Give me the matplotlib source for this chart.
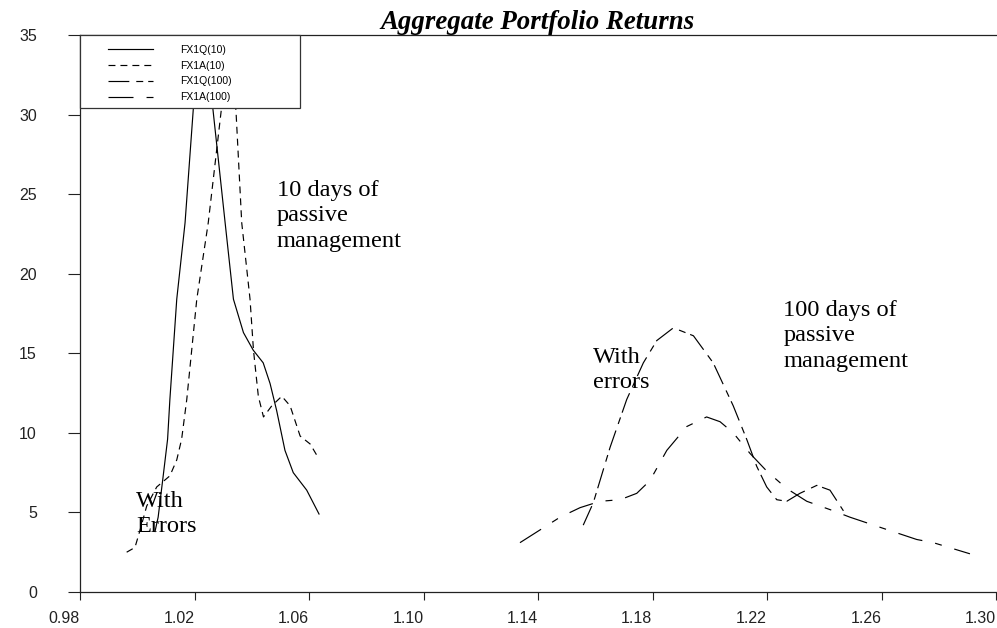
import matplotlib
matplotlib.use("Agg")
import matplotlib.pyplot as plt
from matplotlib.patches import Rectangle
from matplotlib.ticker import FixedLocator, FormatStrFormatter

# ---- data ----
fx1q10_x = [1.0062, 1.0073, 1.0090, 1.0106, 1.0114, 1.0138, 1.0167, 1.0196, 1.0226,
            1.0264, 1.0307, 1.0336, 1.0371, 1.0405, 1.0440, 1.0464, 1.0487, 1.0516,
            1.0545, 1.0592, 1.0635]
fx1q10_y = [3.8, 4.7, 7.2, 9.6, 12.1, 18.4, 23.2, 30.4, 35.5,
            30.4, 23.2, 18.4, 16.3, 15.2, 14.4, 13.1, 11.4, 8.9,
            7.5, 6.4, 4.9]

fx1a10_x = [0.9963, 0.9992, 1.0010, 1.0033, 1.0068, 1.0114, 1.0138, 1.0155, 1.0173,
            1.0208, 1.0248, 1.0293, 1.0321, 1.0345, 1.0365, 1.0394, 1.0406, 1.0423,
            1.0441, 1.0470, 1.0505, 1.0534, 1.0569, 1.0604, 1.0627]
fx1a10_y = [2.5, 2.8, 3.9, 5.4, 6.6, 7.3, 8.3, 9.6, 12.1,
            18.4, 23.2, 30.2, 35.5, 30.2, 23.2, 18.4, 15.2, 12.3,
            11.0, 11.7, 12.3, 11.7, 9.8, 9.3, 8.6]

fx1q100_x = [1.1558, 1.1593, 1.1652, 1.1710, 1.1768, 1.1815, 1.1873, 1.1943, 1.2012,
             1.2082, 1.2129, 1.2164, 1.2199, 1.2234, 1.2269, 1.2315, 1.2374, 1.2420,
             1.2467]
fx1q100_y = [4.2, 5.6, 9.1, 12.1, 14.4, 15.8, 16.6, 16.1, 14.4,
             11.7, 9.6, 7.9, 6.6, 5.8, 5.7, 6.2, 6.7, 6.4,
             5.1]

fx1a100_x = [1.1337, 1.1407, 1.1477, 1.1547, 1.1617, 1.1687, 1.1745, 1.1791, 1.1850,
             1.1920, 1.1989, 1.2036, 1.2082, 1.2141, 1.2199, 1.2269, 1.2339, 1.2432,
             1.2490, 1.2606, 1.2723, 1.2781, 1.2909]
fx1a100_y = [3.1, 3.9, 4.7, 5.3, 5.7, 5.8, 6.2, 7.0, 8.9,
             10.4, 11.0, 10.7, 10.0, 8.7, 7.6, 6.5, 5.7, 5.1,
             4.7, 4.0, 3.3, 3.1, 2.4]

series_labels = ["FX1Q(10)", "FX1A(10)", "FX1Q(100)", "FX1A(100)"]
x_ticks = [0.98, 1.02, 1.06, 1.10, 1.14, 1.18, 1.22, 1.26, 1.30]
y_ticks = [0, 5, 10, 15, 20, 25, 30, 35]
title = "Aggregate Portfolio Returns"

# ---- figure ----
plt.rcParams["lines.scale_dashes"] = False
W, H, DPI = 997, 628, 100
fig = plt.figure(figsize=(W / DPI, H / DPI), dpi=DPI)
ax_l, ax_r, ax_t, ax_b = 80, 996, 35, 592
ax = fig.add_axes([ax_l / W, 1 - ax_b / H, (ax_r - ax_l) / W, (ax_b - ax_t) / H])

lw = 0.85
ax.plot(fx1q10_x, fx1q10_y, color="black", lw=lw, ls="-", label=series_labels[0])
ax.plot(fx1a10_x, fx1a10_y, color="black", lw=lw, ls=(0, (5.0, 3.6)), label=series_labels[1])
ax.plot(fx1q100_x, fx1q100_y, color="black", lw=lw, ls=(0, (15, 5, 5, 3.6)), label=series_labels[2])
ax.plot(fx1a100_x, fx1a100_y, color="black", lw=lw, ls=(0, (18, 9.4, 5, 9.4)), label=series_labels[3])

ax.set_xlim(0.98, 1.30)
ax.set_ylim(0, 35)

ax.xaxis.set_major_locator(FixedLocator(x_ticks))
ax.yaxis.set_major_locator(FixedLocator(y_ticks))
ax.xaxis.set_major_formatter(FormatStrFormatter("%.2f"))
ax.yaxis.set_major_formatter(FormatStrFormatter("%d"))

for lab in ax.get_xticklabels():
    lab.set_fontfamily("Liberation Sans")
    lab.set_fontsize(11.5)
    lab.set_horizontalalignment("right")
for lab in ax.get_yticklabels():
    lab.set_fontfamily("Liberation Sans")
    lab.set_fontsize(11.5)
ax.tick_params(axis="x", direction="out", length=6, width=0.8, pad=8, colors="#222222")
ax.tick_params(axis="y", direction="out", length=9, width=0.8, pad=22, colors="#222222")

for side in ["left", "bottom", "top"]:
    ax.spines[side].set_linewidth(0.9)
    ax.spines[side].set_color("#222222")
ax.spines["right"].set_visible(False)

# legend frame (opaque) + legend entries
ax.add_patch(Rectangle((0, 1 - (107.7 - ax_t) / (ax_b - ax_t)), 220 / (ax_r - ax_l),
                       (107.7 - ax_t) / (ax_b - ax_t), transform=ax.transAxes,
                       facecolor="white", edgecolor="#333333", lw=0.9, zorder=4,
                       clip_on=False))
leg = ax.legend(loc="upper left", bbox_to_anchor=((108 - ax_l) / (ax_r - ax_l), (ax_b - 45) / (ax_b - ax_t)),
                frameon=False, borderpad=0, borderaxespad=0,
                handlelength=4.3, handletextpad=2.6, labelspacing=0.55,
                prop={"family": "Liberation Sans", "size": 7.5})
leg.set_zorder(5)

serif = "Liberation Serif"
ax.set_title(title, fontfamily=serif, fontweight="bold", fontstyle="italic",
             fontsize=19.4, pad=4.5)

fs = 17.6
ax.text(1.0488, 25.9, "10 days of\npassive\nmanagement", fontfamily=serif, fontsize=fs,
        va="top", ha="left", linespacing=1.28)
ax.text(0.99956, 6.35, "With\nErrors", fontfamily=serif, fontsize=fs,
        va="top", ha="left", linespacing=1.28)
ax.text(1.1591, 15.42, "With\nerrors", fontfamily=serif, fontsize=fs,
        va="top", ha="left", linespacing=1.28)
ax.text(1.2257, 18.35, "100 days of\npassive\nmanagement", fontfamily=serif, fontsize=fs,
        va="top", ha="left", linespacing=1.28)

fig.savefig("out.png", dpi=DPI)
